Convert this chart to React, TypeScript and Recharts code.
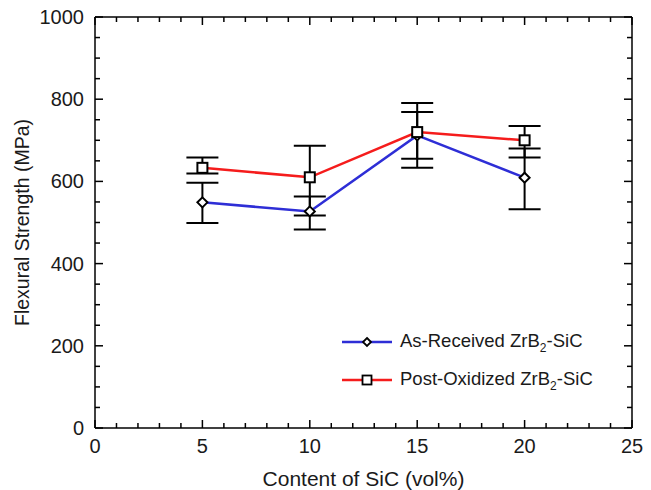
import React from 'react';
import { LineChart, Line, XAxis, YAxis, ErrorBar, ReferenceLine } from 'recharts';

const sicContent = [5, 10, 15, 20];
const asReceived = [549, 527, 712, 609];
const asReceivedLow = [499, 483, 633, 532];
const asReceivedHigh = [597, 563, 769, 680];
const postOxidized = [633, 610, 720, 700];
const postOxidizedLow = [619, 517, 655, 658];
const postOxidizedHigh = [658, 687, 791, 735];

const xTicks = [0, 1, 2, 3, 4, 5, 6, 7, 8, 9, 10, 11, 12, 13, 14, 15, 16, 17, 18, 19, 20, 21, 22, 23, 24, 25];
const yTicks = [0, 50, 100, 150, 200, 250, 300, 350, 400, 450, 500, 550, 600, 650, 700, 750, 800, 850, 900, 950, 1000];

const W = 651;
const H = 490;
const LEFT = 95;
const RIGHT = 632;
const TOP = 17;
const BOTTOM = 428;
const FONT = '"Liberation Sans", Arial, sans-serif';
const BLUE = '#2e2ed6';
const RED = '#f51c1c';

const data = sicContent.map((x, i) => ({
  x,
  blue: asReceived[i],
  blueErr: [asReceived[i] - asReceivedLow[i], asReceivedHigh[i] - asReceived[i]],
  red: postOxidized[i],
  redErr: [postOxidized[i] - postOxidizedLow[i], postOxidizedHigh[i] - postOxidized[i]],
}));

const YTick = (props: any) => {
  const { y, payload } = props;
  const major = payload.value % 200 === 0;
  const len = major ? 8 : 5;
  return (
    <g>
      <line x1={LEFT} x2={LEFT + len} y1={y} y2={y} stroke="#000" strokeWidth={1.5} />
      <line x1={RIGHT - len} x2={RIGHT} y1={y} y2={y} stroke="#000" strokeWidth={1.5} />
      {major && (
        <text x={LEFT - 11} y={y} dy={7} textAnchor="end" fontSize={20} fontFamily={FONT} fill="#1a1a1a">
          {payload.value}
        </text>
      )}
    </g>
  );
};

const XTick = (props: any) => {
  const { x, payload } = props;
  const major = payload.value % 5 === 0;
  const len = major ? 8 : 5;
  return (
    <g>
      <line x1={x} x2={x} y1={BOTTOM} y2={BOTTOM - len} stroke="#000" strokeWidth={1.5} />
      <line x1={x} x2={x} y1={TOP} y2={TOP + len} stroke="#000" strokeWidth={1.5} />
      {major && (
        <text x={x} y={BOTTOM + 25} textAnchor="middle" fontSize={20} fontFamily={FONT} fill="#1a1a1a">
          {payload.value}
        </text>
      )}
    </g>
  );
};

const Diamond = (props: any) => {
  const { cx, cy } = props;
  if (cx == null || cy == null) return null;
  const r = 5;
  return (
    <polygon
      points={`${cx},${cy - r} ${cx + r},${cy} ${cx},${cy + r} ${cx - r},${cy}`}
      fill="#fff"
      stroke="#000"
      strokeWidth={2}
    />
  );
};

const Square = (props: any) => {
  const { cx, cy } = props;
  if (cx == null || cy == null) return null;
  const s = 10;
  return <rect x={cx - s / 2} y={cy - s / 2} width={s} height={s} fill="#fff" stroke="#000" strokeWidth={2} />;
};

const LegendBox = () => {
  const items = [
    { color: BLUE, marker: 'diamond', label: 'As-Received ZrB', tail: '-SiC' },
    { color: RED, marker: 'square', label: 'Post-Oxidized ZrB', tail: '-SiC' },
  ];
  return (
    <div
      style={{
        position: 'absolute',
        left: 341,
        top: 323,
        fontFamily: FONT,
        fontSize: 18.5,
        color: '#1a1a1a',
      }}
    >
      {items.map((it) => (
        <div key={it.label} style={{ display: 'flex', alignItems: 'center', height: 38 }}>
          <svg width={52} height={14} style={{ marginRight: 7 }}>
            <line x1={1} x2={51} y1={7} y2={7} stroke={it.color} strokeWidth={2.5} />
            {it.marker === 'diamond' ? (
              <polygon points="26,3 30,7 26,11 22,7" fill="#fff" stroke="#000" strokeWidth={1.8} />
            ) : (
              <rect x={21.5} y={2.5} width={9} height={9} fill="#fff" stroke="#000" strokeWidth={1.8} />
            )}
          </svg>
          <span>
            {it.label}
            <sub style={{ fontSize: 12 }}>2</sub>
            {it.tail}
          </span>
        </div>
      ))}
    </div>
  );
};

export default function App() {
  return (
    <div style={{ position: 'absolute', left: 0, top: 0, width: W, height: H, background: '#fff' }}>
      <LineChart
        width={W}
        height={H}
        data={data}
        margin={{ top: TOP, right: W - RIGHT, left: 0, bottom: 0 }}
      >
        <XAxis
          dataKey="x"
          type="number"
          domain={[0, 25]}
          ticks={xTicks}
          interval={0}
          height={H - BOTTOM}
          axisLine={{ stroke: '#000', strokeWidth: 1.5 }}
          tickLine={false}
          tick={<XTick />}
          label={{
            value: 'Content of SiC (vol%)',
            position: 'insideBottom',
            offset: 4,
            fontSize: 21,
            fontFamily: FONT,
            fill: '#1a1a1a',
          }}
        />
        <YAxis
          type="number"
          domain={[0, 1000]}
          ticks={yTicks}
          interval={0}
          width={LEFT}
          axisLine={{ stroke: '#000', strokeWidth: 1.5 }}
          tickLine={false}
          tick={<YTick />}
          label={{
            value: 'Flexural Strength (MPa)',
            angle: -90,
            position: 'insideLeft',
            offset: 22,
            style: { textAnchor: 'middle' },
            fontSize: 19.5,
            fontFamily: FONT,
            fill: '#1a1a1a',
          }}
        />
        <ReferenceLine y={1000} stroke="#000" strokeWidth={1.5} />
        <ReferenceLine x={25} stroke="#000" strokeWidth={1.5} />
        <Line
          dataKey="blue"
          stroke={BLUE}
          strokeWidth={2.5}
          dot={<Diamond />}
          activeDot={false}
          isAnimationActive={false}
        >
          <ErrorBar dataKey="blueErr" direction="y" width={16} stroke="#000" strokeWidth={2} />
        </Line>
        <Line
          dataKey="red"
          stroke={RED}
          strokeWidth={2.5}
          dot={<Square />}
          activeDot={false}
          isAnimationActive={false}
        >
          <ErrorBar dataKey="redErr" direction="y" width={16} stroke="#000" strokeWidth={2} />
        </Line>
      </LineChart>
      <LegendBox />
    </div>
  );
}
